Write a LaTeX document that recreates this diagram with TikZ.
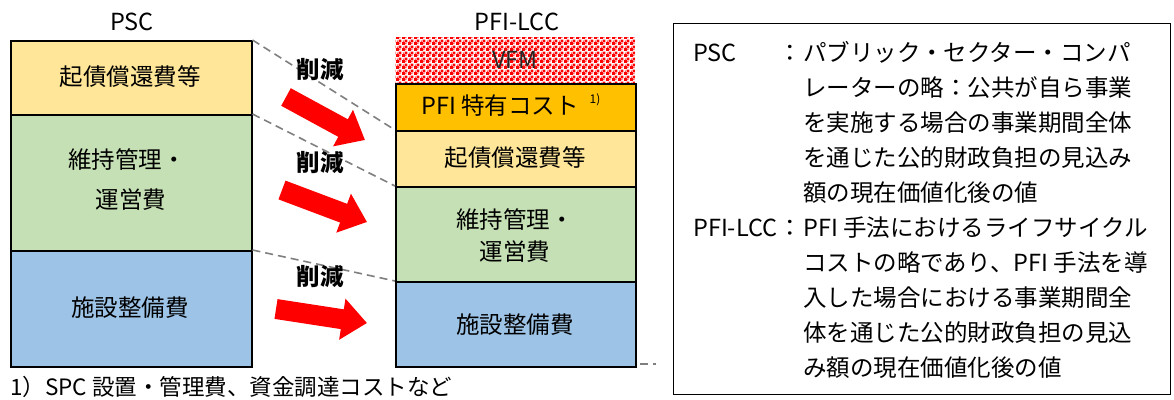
\documentclass[tikz,border=0pt]{standalone}
\usepackage{fontspec}
\setmainfont{Noto Sans CJK JP}
\usetikzlibrary{patterns,arrows.meta}
\newcommand\jpf{\fontsize{23.5}{30}\selectfont}
\newcommand\jpsmall{\fontsize{12}{13}\selectfont}
\definecolor{cyellow}{HTML}{FFE699}
\definecolor{cgreen}{HTML}{C5E0B4}
\definecolor{cblue}{HTML}{9DC3E6}
\definecolor{corange}{HTML}{FFC000}
\definecolor{cdash}{HTML}{7F7F7F}
\pgfdeclarepatternformonly{vfmcheck}{\pgfpointorigin}{\pgfqpoint{6pt}{6pt}}{\pgfqpoint{6pt}{6pt}}{%
  \pgfpathrectangle{\pgfpointorigin}{\pgfqpoint{3.2pt}{3.2pt}}%
  \pgfpathrectangle{\pgfqpoint{3pt}{3pt}}{\pgfqpoint{3.2pt}{3.2pt}}%
  \pgfpathrectangle{\pgfqpoint{3.9pt}{0.9pt}}{\pgfqpoint{1.2pt}{1.2pt}}%
  \pgfpathrectangle{\pgfqpoint{0.9pt}{3.9pt}}{\pgfqpoint{1.2pt}{1.2pt}}%
  \pgfusepath{fill}}
\tikzset{
  every node/.style={font=\jpf, inner sep=0pt, text=black},
  costbox/.style={draw=black, line width=1.5pt, anchor=north west, minimum width=#1},
  costbox/.default=241pt,
  guide/.style={draw=cdash, line width=1.6pt, dash pattern=on 8pt off 5pt},
  cut/.style={draw=red, line width=20pt, -{Triangle[length=25pt,width=40pt]}},
  cutlabel/.style={font=\jpf\bfseries},
  line/.style={anchor=base west},
}
\begin{document}
\begin{tikzpicture}[x=1pt,y=-1pt]
\useasboundingbox (0,0) rectangle (1174,399);
% titles
\node (tpsc) at (132,22) {PSC};
\node (tpfi) at (517,22) {PFI-LCC};
% PSC column
\node[costbox, fill=cyellow, minimum height=74pt] (p1) at (10,40) {};
\node[costbox, fill=cgreen, minimum height=136pt] (p2) at (10,114) {};
\node[costbox, fill=cblue, minimum height=116pt] (p3) at (10,250) {};
\node (p1t) at (130,77) {起債償還費等};
\node (p2t) at (127,160) {維持管理・};
\node (p2u) at (131,200) {運営費};
\node (p3t) at (130,308) {施設整備費};
% PFI-LCC column
\node[anchor=north west, minimum width=240pt, minimum height=45pt, pattern=vfmcheck, pattern color=red] (vfm) at (395,37) {};
\node[text=black!85] (vfmt) at (515,60) {VFM};
\node[costbox=240pt, fill=corange, minimum height=47pt] (f0) at (395,83) {};
\node[costbox=240pt, fill=cyellow, minimum height=56pt] (f1) at (395,130) {};
\node[costbox=240pt, fill=cgreen, minimum height=95pt] (f2) at (395,186) {};
\node[costbox=240pt, fill=cblue, minimum height=85pt] (f3) at (395,281) {};
\node (f0t) at (500,106) {PFI 特有コスト};
\node[font=\jpsmall] (f0n) at (595,100) {1)};
\node (f1t) at (515,158) {起債償還費等};
\node (f2t) at (515,220) {維持管理・};
\node (f2u) at (515,252) {運営費};
\node (f3t) at (515,325) {施設整備費};
% guide lines
\draw[guide] (p1.north east) -- (f1.north west);
\draw[guide] (p2.north east) -- (f2.north west);
\draw[guide] (p3.north east) -- (f3.north west);
\coordinate (s1) at (640,364);
\coordinate (s2) at (656,364);
\draw[guide] (s1) -- (s2);
% reduction arrows
\coordinate (a1t) at (286,97);  \coordinate (a1h) at (365,140);
\coordinate (a2t) at (282,190); \coordinate (a2h) at (367,222);
\coordinate (a3t) at (276,309); \coordinate (a3h) at (367,323);
\draw[cut] (a1t) -- (a1h);
\draw[cut] (a2t) -- (a2h);
\draw[cut] (a3t) -- (a3h);
\node[cutlabel] (c1) at (320,70) {削減};
\node[cutlabel] (c2) at (320,163) {削減};
\node[cutlabel] (c3) at (320,277) {削減};
% footnote
\node[anchor=west, font=\fontsize{22.5}{26}\selectfont] (fn) at (10,387) {1）SPC 設置・管理費、資金調達コストなど};
% legend box
\node[draw=black, line width=1pt, anchor=north west, minimum width=497pt, minimum height=371pt] (legend) at (673,23) {};
\node[line] (l1a) at (693,61) {PSC};
\node (l1b) at (790,53) {：};
\node[line] (l1) at (803,61) {パブリック・セクター・コンパ};
\node[line] (l2) at (803,96) {レーターの略：公共が自ら事業};
\node[line] (l3) at (803,131) {を実施する場合の事業期間全体};
\node[line] (l4) at (803,166) {を通じた公的財政負担の見込み};
\node[line] (l5) at (803,201) {額の現在価値化後の値};
\node[line] (l6a) at (693,236) {PFI-LCC};
\node (l6b) at (790,228) {：};
\node[line] (l6) at (803,236) {PFI 手法におけるライフサイクル};
\node[line] (l7) at (803,271) {コストの略であり、PFI 手法を導};
\node[line] (l8) at (803,306) {入した場合における事業期間全};
\node[line] (l9) at (803,341) {体を通じた公的財政負担の見込};
\node[line] (l10) at (803,376) {み額の現在価値化後の値};
\end{tikzpicture}
\end{document}
